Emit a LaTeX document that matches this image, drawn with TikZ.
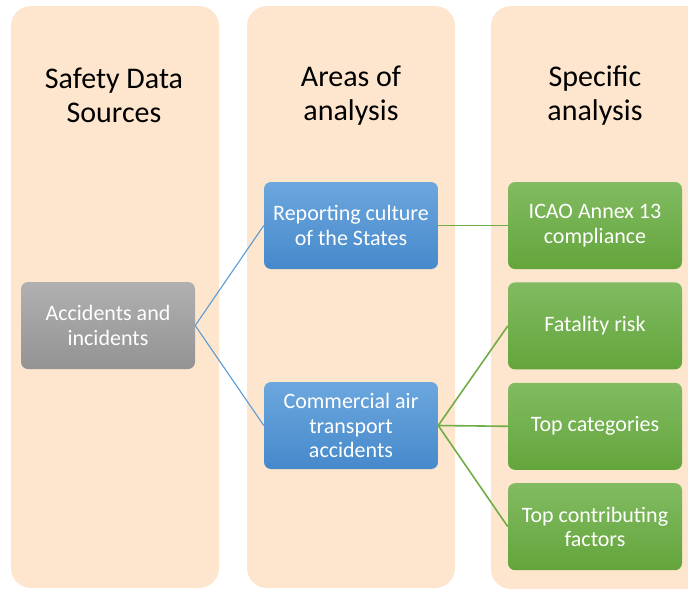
\documentclass[tikz,border=0pt]{standalone}
\usepackage{fontspec}
\setmainfont{Carlito}
\usetikzlibrary{positioning}
\definecolor{peach}{HTML}{FDE6CD}
\definecolor{grayT}{HTML}{B0B0B0}
\definecolor{grayB}{HTML}{939393}
\definecolor{blueT}{HTML}{6CA7DE}
\definecolor{blueB}{HTML}{4689CB}
\definecolor{greenT}{HTML}{82BB62}
\definecolor{greenB}{HTML}{63A53B}
\definecolor{blueline}{HTML}{5B9BD5}
\definecolor{greenline}{HTML}{70AD47}
\begin{document}
\begin{tikzpicture}[x=1pt,y=-1pt,
  column/.style={fill=peach,rounded corners=20pt},
  head/.style={align=center,font=\fontsize{30}{34}\selectfont},
  box/.style={rounded corners=7pt,minimum width=174pt,minimum height=87pt,
    align=center,text=white,font=\fontsize{22}{24.5}\selectfont},
  graybox/.style={box,top color=grayT,bottom color=grayB},
  bluebox/.style={box,top color=blueT,bottom color=blueB},
  greenbox/.style={box,top color=greenT,bottom color=greenB},
  bluelink/.style={draw=blueline,line width=1.1pt},
  greenlink/.style={draw=greenline,line width=1.6pt}]
  \useasboundingbox (0,0) rectangle (688,590);
  \clip (0,0) rectangle (688,590);
  \fill[column] (11,6) rectangle (219,588);
  \fill[column] (247,6) rectangle (455,588);
  \fill[column] (491,6) rectangle (712,589);

  \node[head] (hsrc) at (114,95) {Safety Data\\Sources};
  \node[head] (harea) at (351,96) {Areas of\\analysis};
  \node[head] (hspec) at (595,96) {Specific\\analysis};

  \node[graybox] (acc) at (108,325.5) {Accidents and\\incidents};
  \node[bluebox] (rep) at (351,225.5) {Reporting culture\\of the States};
  \node[bluebox] (cat) at (351,425.5) {Commercial air\\transport\\accidents};

  \node[greenbox] (icao) at (595,225.5) {ICAO Annex 13\\compliance};
  \node[greenbox,below=13pt of icao] (fat) {Fatality risk};
  \node[greenbox,below=13pt of fat] (topcat) {Top categories};
  \node[greenbox,below=13pt of topcat] (topfac) {Top contributing\\factors};

  \draw[bluelink] (acc.east) -- (rep.west);
  \draw[bluelink] (acc.east) -- (cat.west);
  \draw[greenlink] (rep.east) -- (icao.west);
  \draw[greenlink] (cat.east) -- (fat.west);
  \draw[greenlink] (cat.east) -- (topcat.west);
  \draw[greenlink] (cat.east) -- (topfac.west);
\end{tikzpicture}
\end{document}
